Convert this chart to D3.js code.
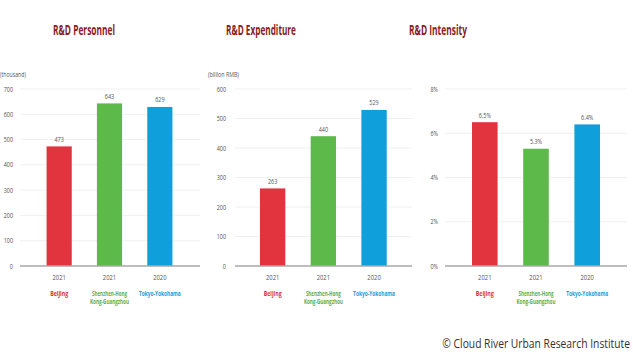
<!DOCTYPE html>
<html><head><meta charset="utf-8">
<script src="https://cdn.jsdelivr.net/npm/d3@7"></script>
<style>body{margin:0;background:#fff;} svg{display:block;font-family:"Open Sans","Noto Sans",sans-serif;}</style>
</head><body>
<svg id="c" width="633" height="356"></svg>
<script>
const cities = ["Beijing", "Shenzhen-Hong Kong-Guangzhou", "Tokyo-Yokohama"];
const cityLines = [["Beijing"], ["Shenzhen-Hong", "Kong-Guangzhou"], ["Tokyo-Yokohama"]];
const years = ["2021", "2021", "2020"];
const colors = ["#E1343E", "#5DB94A", "#0FA0DB"];
const labelColors = ["#D8333D", "#5AAE48", "#1A9BD7"];
const personnel = [473, 643, 629];
const expenditure = [263, 440, 529];
const intensity = [6.5, 5.3, 6.4];
const personnelTicks = [0, 100, 200, 300, 400, 500, 600, 700];
const expenditureTicks = [0, 100, 200, 300, 400, 500, 600];
const intensityTicks = [0, 2, 4, 6, 8];
const titles = ["R&D Personnel", "R&D Expenditure", "R&D Intensity"];
const units = ["(thousand)", "(billion RMB)", ""];

const svg = d3.select("#c");
function ctext(parent, str, x, y, opts) {
  const t = parent.append("text").attr("x", 0).attr("y", 0)
    .attr("text-anchor", opts.anchor || "start")
    .attr("font-size", opts.size).attr("font-weight", opts.weight || 400)
    .attr("fill", opts.fill).text(str);
  const w = t.node().getComputedTextLength();
  const s = opts.width ? opts.width / w : (opts.factor || 0.78);
  t.attr("transform", `translate(${x},${y}) scale(${s},1)`);
  return t;
}

const panels = [
  {title: titles[0], titleX: 84, titleW: 62, unit: units[0], unitX: 0, unitW: 26, data: personnel, ticks: personnelTicks, max: 700, fmt: d => d, vfmt: d => d, gx0: 20, gx1: 200, lx: 13, bx0: 34, bx1: 185},
  {title: titles[1], titleX: 261, titleW: 70, unit: units[1], unitX: 208, unitW: 31, data: expenditure, ticks: expenditureTicks, max: 600, fmt: d => d, vfmt: d => d, gx0: 235, gx1: 412, lx: 226, bx0: 247.3, bx1: 399.4},
  {title: titles[2], titleX: 438, titleW: 58, unit: units[2], unitX: 420, unitW: 0, data: intensity, ticks: intensityTicks, max: 8, fmt: d => d + "%", vfmt: d => d.toFixed(1) + "%", gx0: 445, gx1: 627, lx: 438, bx0: 459.2, bx1: 612.8}
];
const cityW = {"Beijing": 18, "Shenzhen-Hong": 35, "Kong-Guangzhou": 39, "Tokyo-Yokohama": 42};
const yTop = 89, yBot = 266;

panels.forEach(p => {
  const g = svg.append("g");
  const y = d3.scaleLinear().domain([0, p.max]).range([yBot, yTop]);
  const x = d3.scaleBand().domain(d3.range(3)).range([p.bx0, p.bx1]).paddingInner(0.5).paddingOuter(0.25);

  ctext(g, p.title, p.titleX, 34.5, {anchor: "middle", size: 15, weight: 700, fill: "#8C1A1E", width: p.titleW});

  if (p.unit) ctext(g, p.unit, p.unitX, 77, {size: 6.5, fill: "#555", width: p.unitW});

  g.selectAll(".grid").data(p.ticks.filter(t => t > 0)).enter().append("line")
    .attr("x1", p.gx0).attr("x2", p.gx1).attr("y1", d => y(d)).attr("y2", d => y(d))
    .attr("stroke", "#ECECEC").attr("stroke-width", 0.8);

  p.ticks.forEach(t => ctext(g, p.fmt(t), p.lx, y(t) + 2.5, {anchor: "end", size: 7, fill: "#555"}));

  g.selectAll(".bar").data(p.data).enter().append("rect")
    .attr("x", (d, i) => x(i)).attr("width", x.bandwidth())
    .attr("y", d => y(d)).attr("height", d => yBot - y(d))
    .attr("fill", (d, i) => colors[i]);

  g.append("line").attr("x1", p.gx0).attr("x2", p.gx1).attr("y1", yBot).attr("y2", yBot)
    .attr("stroke", "#A8A8A8").attr("stroke-width", 1.5);

  p.data.forEach((d, i) => ctext(g, p.vfmt(d), x(i) + x.bandwidth() / 2, y(d) - 4.5, {anchor: "middle", size: 7, fill: "#555"}));

  years.forEach((d, i) => ctext(g, d, x(i) + x.bandwidth() / 2, 280, {anchor: "middle", size: 7.5, fill: "#555"}));

  cityLines.forEach((lines, i) => {
    lines.forEach((ln, j) => {
      ctext(g, ln, x(i) + x.bandwidth() / 2, 295.5 + j * 8,
        {anchor: "middle", size: 6.5, weight: 700, fill: labelColors[i], width: cityW[ln]});
    });
  });
});

ctext(svg, "© Cloud River Urban Research Institute", 630, 348,
  {anchor: "end", size: 12.5, fill: "#3a2e2a", width: 188});
</script>
</body></html>
